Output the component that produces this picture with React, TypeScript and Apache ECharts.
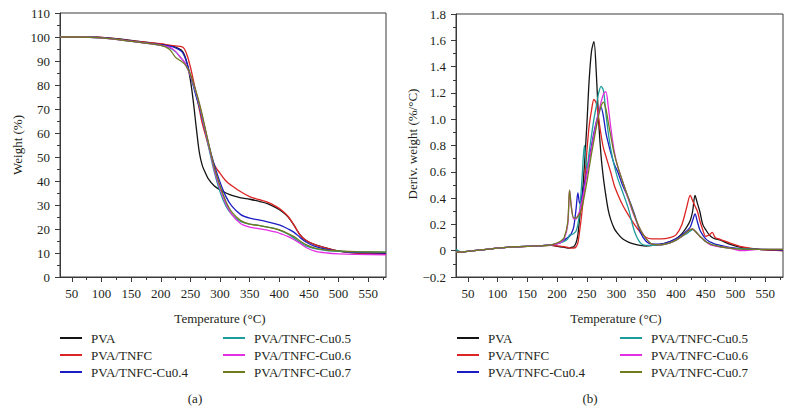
import React, { useEffect, useRef } from 'react';
import * as echarts from 'echarts';

const seriesNames = ['PVA', 'PVA/TNFC', 'PVA/TNFC-Cu0.4', 'PVA/TNFC-Cu0.5', 'PVA/TNFC-Cu0.6', 'PVA/TNFC-Cu0.7'];
const seriesColors = ['#141414', '#dc2424', '#1c1cc4', '#1e9c9c', '#e42ee4', '#6f7b1e'];

const xMajorTicks = [50, 100, 150, 200, 250, 300, 350, 400, 450, 500, 550];
const xMinorTicks = [75, 125, 175, 225, 275, 325, 375, 425, 475, 525, 575];

// TGA (a)
const tgaTemps = [30, 60, 100, 150, 200, 215, 225, 235, 240, 245, 250, 255, 260, 265, 270, 275, 280, 290, 300, 310, 320, 335, 350, 365, 380, 395, 405, 415, 425, 435, 445, 460, 480, 500, 530, 580];
const tgaPVA = [100, 100, 99.8, 98.6, 97, 96.4, 95.8, 94.5, 92.5, 88.5, 82, 73, 62, 52, 46.5, 43.5, 41, 38, 36.3, 35, 34, 33, 32.4, 31.6, 30.6, 28.8, 27.2, 25, 21.5, 17.5, 15.2, 13.5, 12, 10.8, 10, 9.7];
const tgaTNFC = [100, 100, 99.8, 98.5, 97.2, 96.6, 96.3, 96, 95, 92, 87.5, 82, 76, 70, 64, 59.5, 55, 47, 43.2, 40, 38, 35.5, 33.5, 32.3, 31.2, 29.3, 27.6, 25.2, 21.5, 17.5, 15.3, 13.5, 12, 10.8, 10, 9.4];
const tgaCu04 = [100, 100, 99.7, 98.3, 96.8, 96.2, 95.5, 94, 92, 88.5, 84, 79.5, 75, 71, 66, 61, 56, 47, 39.5, 33.5, 29.5, 26, 24.5, 23.8, 23, 22, 21.2, 20, 18.6, 16.5, 14.6, 12.8, 11.5, 10.8, 10.3, 10];
const tgaCu05 = [100, 100, 99.6, 98.2, 96.5, 95.5, 93.8, 91, 89.5, 87, 84, 80, 76, 71.5, 66.5, 61, 55, 44, 35.5, 29.5, 26, 23, 22, 21.5, 20.8, 20, 19, 17.8, 16.2, 14.5, 13, 11.8, 11, 10.7, 10.5, 10.4];
const tgaCu06 = [100, 100, 99.6, 98.2, 96.6, 95.8, 94, 91, 89.5, 87, 84, 80.5, 76.5, 72, 67, 61.5, 56, 45, 37, 30.5, 26, 22.2, 20.8, 20.2, 19.5, 18.7, 17.8, 16.8, 15.5, 14, 12.3, 10.8, 10, 9.6, 9.4, 9.2];
const tgaCu07 = [100, 100, 99.6, 98.2, 96.5, 94.8, 91.5, 89.8, 88.8, 87, 84.5, 81, 77, 72.5, 67.5, 62, 56.5, 46, 38, 31.5, 27, 23.5, 22, 21.5, 20.8, 20, 19.2, 18, 16.8, 15, 13.5, 12, 11.2, 10.9, 10.6, 10.4];

// DTG (b)
const dtgTemps = [30, 40, 60, 100, 130, 160, 190, 205, 212, 218, 221, 224, 228, 232, 235, 238, 242, 246, 250, 254, 258, 262, 266, 270, 274, 278, 282, 286, 290, 296, 302, 310, 320, 330, 340, 350, 360, 375, 390, 400, 410, 418, 424, 428, 432, 436, 440, 445, 450, 456, 461, 466, 475, 490, 510, 540, 580];
const dtgPVA = [-0.01, -0.01, 0, 0.02, 0.03, 0.035, 0.04, 0.03, 0.025, 0.02, 0.02, 0.025, 0.03, 0.06, 0.12, 0.25, 0.4, 0.65, 0.95, 1.3, 1.52, 1.59, 1.35, 0.98, 0.72, 0.55, 0.42, 0.31, 0.24, 0.17, 0.13, 0.09, 0.065, 0.05, 0.04, 0.035, 0.04, 0.05, 0.07, 0.09, 0.13, 0.18, 0.23, 0.3, 0.42, 0.36, 0.3, 0.2, 0.16, 0.12, 0.1, 0.09, 0.08, 0.05, 0.025, 0.01, 0];
const dtgTNFC = [-0.01, -0.01, 0, 0.02, 0.03, 0.035, 0.04, 0.035, 0.03, 0.025, 0.02, 0.02, 0.02, 0.03, 0.06, 0.15, 0.3, 0.5, 0.75, 0.95, 1.07, 1.15, 1.12, 1.0, 0.88, 0.78, 0.72, 0.66, 0.6, 0.5, 0.43, 0.35, 0.27, 0.2, 0.14, 0.1, 0.09, 0.09, 0.1, 0.12, 0.2, 0.33, 0.42, 0.38, 0.34, 0.3, 0.23, 0.16, 0.11, 0.12, 0.14, 0.1, 0.085, 0.06, 0.03, 0.01, 0];
const dtgCu04 = [-0.01, -0.01, 0, 0.02, 0.03, 0.035, 0.045, 0.06, 0.08, 0.1, 0.11, 0.13, 0.18, 0.32, 0.44, 0.36, 0.42, 0.5, 0.6, 0.7, 0.8, 0.9, 0.98, 1.05, 1.09, 1.02, 0.9, 0.82, 0.75, 0.66, 0.6, 0.5, 0.4, 0.28, 0.14, 0.07, 0.05, 0.05, 0.07, 0.09, 0.12, 0.15, 0.18, 0.23, 0.28, 0.22, 0.16, 0.12, 0.09, 0.07, 0.06, 0.05, 0.04, 0.025, 0.015, 0.01, 0.005];
const dtgCu05 = [0.01, -0.01, 0, 0.02, 0.03, 0.035, 0.045, 0.06, 0.07, 0.09, 0.12, 0.12, 0.13, 0.15, 0.2, 0.3, 0.55, 0.8, 0.62, 0.75, 0.88, 1.0, 1.1, 1.2, 1.25, 1.22, 1.05, 0.9, 0.78, 0.65, 0.55, 0.45, 0.32, 0.15, 0.06, 0.04, 0.04, 0.045, 0.06, 0.08, 0.11, 0.13, 0.15, 0.16, 0.15, 0.13, 0.11, 0.09, 0.07, 0.055, 0.045, 0.04, 0.03, 0.02, 0.015, 0.01, 0.01];
const dtgCu06 = [-0.01, -0.01, 0, 0.02, 0.03, 0.035, 0.045, 0.06, 0.09, 0.2, 0.46, 0.34, 0.24, 0.24, 0.27, 0.3, 0.38, 0.47, 0.58, 0.68, 0.78, 0.88, 0.97, 1.05, 1.13, 1.19, 1.21, 1.1, 0.95, 0.76, 0.64, 0.53, 0.39, 0.26, 0.16, 0.09, 0.05, 0.045, 0.06, 0.08, 0.11, 0.14, 0.16, 0.165, 0.15, 0.13, 0.11, 0.09, 0.07, 0.05, 0.04, 0.035, 0.03, 0.02, 0.0, 0.01, 0.01];
const dtgCu07 = [-0.01, -0.01, 0, 0.02, 0.03, 0.035, 0.045, 0.07, 0.1, 0.22, 0.46, 0.33, 0.25, 0.25, 0.26, 0.28, 0.33, 0.42, 0.52, 0.63, 0.74, 0.84, 0.94, 1.03, 1.1, 1.13, 1.08, 0.98, 0.88, 0.74, 0.64, 0.53, 0.4, 0.27, 0.16, 0.09, 0.05, 0.045, 0.06, 0.08, 0.11, 0.14, 0.16, 0.165, 0.15, 0.13, 0.11, 0.09, 0.07, 0.055, 0.045, 0.04, 0.03, 0.02, 0.012, 0.01, 0.01];

const tgaSeries = [tgaPVA, tgaTNFC, tgaCu04, tgaCu05, tgaCu06, tgaCu07];
const dtgSeries = [dtgPVA, dtgTNFC, dtgCu04, dtgCu05, dtgCu06, dtgCu07];

const FONT = "'Liberation Serif', 'Times New Roman', serif";
const TEXT = '#231f20';
const AXIS = '#3a3a3a';

function mainX(gridIndex: number) {
  return {
    type: 'value', gridIndex, min: 30, max: 580, position: 'bottom',
    axisLine: { show: true, onZero: false, lineStyle: { color: AXIS, width: 1 } },
    axisTick: { show: true, length: 5, customValues: xMajorTicks, lineStyle: { color: AXIS } },
    axisLabel: { customValues: xMajorTicks, margin: 10, fontSize: 13, fontFamily: FONT, color: TEXT },
    splitLine: { show: false },
  };
}
function minorX(gridIndex: number) {
  return {
    type: 'value', gridIndex, min: 30, max: 580, position: 'bottom',
    axisLine: { show: false, onZero: false },
    axisTick: { show: true, length: 3, customValues: xMinorTicks, lineStyle: { color: AXIS } },
    axisLabel: { show: false },
    splitLine: { show: false },
  };
}

function legendCol(left: number, names: string[]) {
  return {
    orient: 'vertical', left, top: 330.5, padding: 0,
    itemWidth: 22, itemHeight: 2, itemGap: 2, icon: 'rect', selectedMode: false,
    data: names,
    textStyle: { fontSize: 13, fontFamily: FONT, color: TEXT, lineHeight: 15, padding: [0, 0, 0, 4] },
  };
}

export default function App() {
  const ref = useRef<HTMLDivElement>(null);
  useEffect(() => {
    if (!ref.current) return;
    const chart = echarts.init(ref.current, undefined, { renderer: 'svg' });
    const series: any[] = [];
    seriesNames.forEach((name, i) => {
      series.push({
        type: 'line', name, xAxisIndex: 0, yAxisIndex: 0,
        data: tgaTemps.map((t, k) => [t, tgaSeries[i][k]]),
        showSymbol: false, symbol: 'none', smooth: 0.3,
        lineStyle: { width: 1.3, color: seriesColors[i] }, itemStyle: { color: seriesColors[i] },
      });
    });
    seriesNames.forEach((name, i) => {
      series.push({
        type: 'line', name, xAxisIndex: 2, yAxisIndex: 1,
        data: dtgTemps.map((t, k) => [t, dtgSeries[i][k]]),
        showSymbol: false, symbol: 'none', smooth: 0.3,
        lineStyle: { width: 1.3, color: seriesColors[i] }, itemStyle: { color: seriesColors[i] },
      });
    });
    const txt = (text: string, x: number, y: number, rot = 0) => ({
      type: 'text', x, y, rotation: rot,
      style: { text, fill: TEXT, font: `13px ${FONT}`, textAlign: 'center', textVerticalAlign: 'middle', verticalAlign: 'middle' },
    });
    chart.setOption({
      animation: false,
      backgroundColor: '#ffffff',
      grid: [
        { left: 60, top: 13, width: 326, height: 264, show: true, borderColor: AXIS, borderWidth: 1, backgroundColor: 'transparent' },
        { left: 456, top: 14, width: 327, height: 263, show: true, borderColor: AXIS, borderWidth: 1, backgroundColor: 'transparent' },
      ],
      xAxis: [mainX(0), minorX(0), mainX(1), minorX(1)],
      yAxis: [
        {
          type: 'value', gridIndex: 0, min: 0, max: 110, interval: 10,
          axisLine: { show: true, lineStyle: { color: AXIS } },
          axisTick: { show: true, length: 5, lineStyle: { color: AXIS } },
          minorTick: { show: true, splitNumber: 2, length: 3, lineStyle: { color: AXIS } },
          axisLabel: { margin: 10, fontSize: 13, fontFamily: FONT, color: TEXT },
          splitLine: { show: false },
        },
        {
          type: 'value', gridIndex: 1, min: -0.2, max: 1.8, interval: 0.2,
          axisLine: { show: true, onZero: false, lineStyle: { color: AXIS } },
          axisTick: { show: true, length: 5, lineStyle: { color: AXIS } },
          minorTick: { show: true, splitNumber: 2, length: 3, lineStyle: { color: AXIS } },
          axisLabel: {
            margin: 10, fontSize: 13, fontFamily: FONT, color: TEXT,
            formatter: (v: number) => (Math.abs(v) < 1e-9 ? '0' : (v < 0 ? '\u2212' : '') + Math.abs(v).toFixed(1)),
          },
          splitLine: { show: false },
        },
      ],
      legend: [
        legendCol(60, seriesNames.slice(0, 3)),
        legendCol(223, seriesNames.slice(3, 6)),
        legendCol(457, seriesNames.slice(0, 3)),
        legendCol(620, seriesNames.slice(3, 6)),
      ],
      graphic: [
        txt('Weight (%)', 17, 145, Math.PI / 2),
        txt('Deriv. weight (%/°C)', 412, 144, Math.PI / 2),
        txt('Temperature (°C)', 220, 318),
        txt('Temperature (°C)', 616, 318),
        txt('(a)', 195, 398),
        txt('(b)', 590, 398),
      ],
      series,
    });
    return () => chart.dispose();
  }, []);
  return <div ref={ref} style={{ position: 'absolute', left: 0, top: 0, width: 792, height: 411 }} />;
}
